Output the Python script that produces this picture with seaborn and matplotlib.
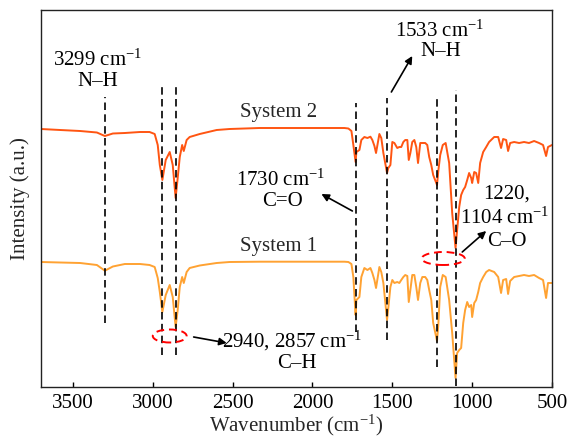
import numpy as np
import pandas as pd
import matplotlib
matplotlib.use("Agg")
import matplotlib.pyplot as plt
from matplotlib.patches import Ellipse
import seaborn as sns

# FTIR spectra (wavenumber in cm^-1, intensity in arbitrary units)
wavenumber = [
    3700, 3580, 3455, 3350, 3300, 3250, 3175, 3080, 3020, 2988, 2969, 2956,
    2940, 2919, 2894, 2875, 2857, 2844, 2831, 2816, 2806, 2788, 2769, 2706,
    2600, 2519, 2331, 2081, 1800, 1775, 1756, 1744, 1730, 1725, 1706, 1694,
    1675, 1656, 1637, 1625, 1612, 1602, 1581, 1569, 1556, 1533, 1525, 1512,
    1500, 1487, 1469, 1456, 1444, 1431, 1419, 1406, 1397, 1387, 1375, 1362,
    1350, 1339, 1325, 1312, 1294, 1281, 1269, 1256, 1244, 1220, 1212, 1200,
    1184, 1166, 1144, 1125, 1104, 1094, 1081, 1069, 1056, 1044, 1031, 1019,
    1006, 1000, 987, 975, 962, 950, 931, 912, 894, 862, 837, 819,
    806, 787, 775, 762, 737, 706, 675, 644, 612, 581, 556, 537,
    525, 500,
]
system2 = [
    258, 257, 256, 254.5, 251, 253.5, 254, 255, 255, 253, 242, 222,
    207, 227, 235, 222, 189, 209, 230, 242, 236, 247, 250, 253,
    257, 258, 259, 259, 259, 258.5, 256, 242, 225, 235, 237, 247,
    250, 249, 250.3, 247, 241, 234, 253, 249, 234, 214, 219, 222,
    245, 244, 239, 240, 240, 245, 247, 247, 227, 234, 245, 247,
    240, 224, 244, 244, 244, 242, 230, 222, 212, 202, 216, 232,
    242, 244, 224, 174, 139, 157, 180, 192, 197, 200, 207, 214,
    209, 204, 215, 214, 204, 224, 235, 240, 245, 250, 250, 239,
    248, 247, 236, 244, 245, 244, 245, 244, 246, 244, 242, 231,
    240, 242,
]
system1 = [
    125, 124.5, 124, 122, 116.3, 120.5, 123, 123, 122, 120, 109, 95,
    75, 92, 102, 90, 60, 77, 100, 110, 104, 115, 119, 121.5,
    124, 125, 125.3, 125.3, 125.3, 125, 123, 110, 72, 87, 90, 110,
    119, 117, 119, 114, 107, 99, 120, 115, 104, 67, 79, 100,
    107, 104, 105, 104, 107, 110, 112, 111, 85, 97, 112, 112,
    100, 87, 104, 110, 110, 107, 97, 87, 64, 46, 62, 100,
    112, 110, 87, 54, 9, 34, 37, 39, 64, 77, 85, 80,
    82, 70, 84, 87, 95, 104, 110, 115, 117, 115, 110, 94,
    107, 108, 93, 106, 110, 111, 112, 111, 112, 109, 107, 89,
    104, 104,
]

series_names = ["System 2", "System 1"]
series_colors = ["#FF5512", "#FFA232"]
peak_marks = [3299, 2940, 2857, 1730, 1533, 1220, 1104]
peak_spans = [(64, 290), (32, 302), (32, 302), (55, 284), (47, 289), (20, 289), (1, 297)]

df = pd.concat([
    pd.DataFrame({"wavenumber": wavenumber, "intensity": system2, "series": series_names[0]}),
    pd.DataFrame({"wavenumber": wavenumber, "intensity": system1, "series": series_names[1]}),
])

sns.set_theme(style="ticks")
plt.rcParams["font.family"] = ["Liberation Serif", "DejaVu Sans"]
plt.rcParams["mathtext.fontset"] = "custom"
plt.rcParams["mathtext.rm"] = "Liberation Serif"
plt.rcParams["mathtext.it"] = "Liberation Serif:italic"

fig = plt.figure(figsize=(5.68, 4.38), dpi=100)
ax = fig.add_axes([41 / 568, 51 / 438, 511 / 568, 377 / 438])

sns.lineplot(data=df, x="wavenumber", y="intensity", hue="series",
             palette=dict(zip(series_names, series_colors)), sort=False,
             estimator=None, linewidth=1.4, legend=False, ax=ax)

for wn, (y0, y1) in zip(peak_marks, peak_spans):
    ax.plot([wn, wn], [y0, y1], color="black", lw=1.2, dashes=(4.5, 2.6), zorder=3)

ax.set_xlim(3700, 500)
ax.set_ylim(0, 377)
ax.set_xticks([3500, 3000, 2500, 2000, 1500, 1000, 500])
ax.set_yticks([])
ax.tick_params(axis="x", direction="in", length=3.5, width=1, labelsize=15, pad=5, colors="black")
for sp in ax.spines.values():
    sp.set_color("#222222")
    sp.set_linewidth(1.0)
ax.set_xlabel(r"Wavenumber (cm$^{-1}$)", fontsize=15, labelpad=0)
ax.set_ylabel("Intensity (a.u.)", fontsize=15, labelpad=8)

fs = 15
txt = dict(fontsize=fs, ha="center", va="center", color="black")
unit = r" cm$^{-1}$"
ax.text(3344, 327, "3299" + unit, **txt)
ax.text(3344, 305, "N–H", **txt)
ax.text(1206, 356, "1533" + unit, **txt)
ax.text(1194, 335, "N–H", **txt)
ax.text(2212, 274, series_names[0], fontsize=15, ha="center", va="center")
ax.text(2200, 207, "1730" + unit, **txt)
ax.text(2187, 186, "C=O", **txt)
ax.text(2212, 140, series_names[1], fontsize=15, ha="center", va="center")
ax.text(2125, 46, "2940, 2857" + unit, **txt)
ax.text(2100, 24, "C–H", **txt)
ax.text(787, 193, "1220,", **txt)
ax.text(794, 169, "1104" + unit, **txt)
ax.text(781, 145, "C–O", **txt)

arrow = dict(arrowstyle="-|>", color="black", lw=1.2, mutation_scale=11,
             shrinkA=0, shrinkB=0)
ax.annotate("", xy=(1375, 331), xytext=(1506, 295), arrowprops=arrow)
ax.annotate("", xy=(1944, 193), xytext=(1750, 176), arrowprops=arrow)
ax.annotate("", xy=(2537, 44), xytext=(2744, 50), arrowprops=arrow)
ax.annotate("", xy=(912, 156), xytext=(1062, 135), arrowprops=arrow)

for cx, cy, w, h in [(2894, 51, 212, 13), (1181, 128.5, 269, 13)]:
    ax.add_patch(Ellipse((cx, cy), w, h, fill=False, edgecolor="red",
                         lw=1.4, linestyle=(0, (4, 2.5)), zorder=4))

fig.savefig("out.png", dpi=100)
